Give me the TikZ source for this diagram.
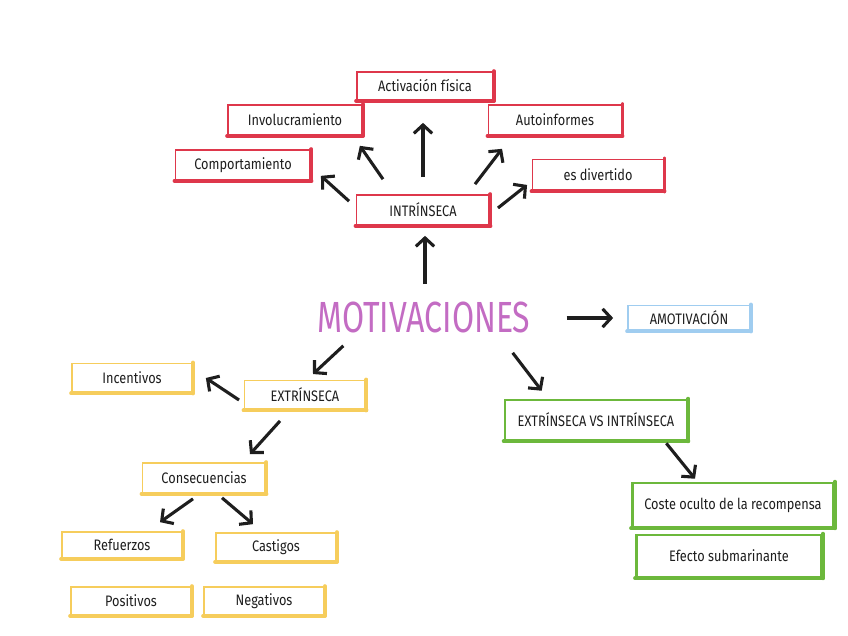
\documentclass[tikz,border=0pt]{standalone}
\usepackage{fontspec}
\setmainfont{Fira Sans}[FakeStretch=0.84]
\newfontfamily\titlefont{Fira Sans}[FakeStretch=0.735]
\usetikzlibrary{arrows.meta}
\definecolor{mred}{RGB}{222,55,75}
\definecolor{myel}{RGB}{246,205,92}
\definecolor{mgrn}{RGB}{108,184,60}
\definecolor{mblu}{RGB}{160,205,240}
\definecolor{mpur}{RGB}{195,108,195}
\definecolor{ink}{RGB}{30,30,30}

\begin{document}
\begin{tikzpicture}[x=0.025cm,y=-0.025cm,>={Straight Barb[length=6pt,width=13pt]},font=\fontsize{10.8}{12}\selectfont]
\tikzset{box/.style={draw=#1,line width=1.2pt,minimum height=0.72cm,inner sep=2pt,text=ink,
  append after command={(\tikzlastnode.north east) edge[draw=#1,line width=2.8pt,line cap=round] (\tikzlastnode.south east)
    (\tikzlastnode.south east) edge[draw=#1,line width=2.8pt,line cap=round] (\tikzlastnode.south west)}}}
\tikzstyle{arr}=[->,line width=2.2pt,ink]
\useasboundingbox (0,0) rectangle (848,636);

% central topic
\node[text=mpur,font=\titlefont\fontsize{31}{31}\selectfont,minimum width=5.3cm,minimum height=0.75cm,inner sep=0pt] (mot) at (424,317) {MOTIVACIONES};

% intrinseca
\node[box=mred,minimum width=3.33cm,minimum height=0.75cm] (intr) at (423,210) {INTRÍNSECA};
\node[box=mred,minimum width=3.4cm,minimum height=0.7cm] (act) at (425,86) {Activación física};
\node[box=mred,minimum width=3.35cm,minimum height=0.75cm] (inv) at (295,120) {Involucramiento};
\node[box=mred,minimum width=3.33cm,minimum height=0.75cm] (auto) at (555,120) {Autoinformes};
\node[box=mred,minimum width=3.38cm,minimum height=0.75cm] (comp) at (243,165) {Comportamiento};
\node[box=mred,minimum width=3.28cm,minimum height=0.78cm] (div) at (598,175) {es divertido};

% amotivacion
\node[box=mblu,minimum width=3.05cm,minimum height=0.63cm] (amot) at (689,318) {AMOTIVACIÓN};

% extrinseca
\node[box=myel,minimum width=3.03cm,minimum height=0.73cm] (extr) at (305,395) {EXTRÍNSECA};
\node[box=myel,minimum width=3cm,minimum height=0.73cm] (inc) at (132,378) {Incentivos};
\node[box=myel,minimum width=3.08cm,minimum height=0.75cm] (cons) at (204,478) {Consecuencias};
\node[box=myel,minimum width=3cm,minimum height=0.65cm] (ref) at (122,545) {Refuerzos};
\node[box=myel,minimum width=3cm,minimum height=0.7cm] (cast) at (276,547) {Castigos};
\node[box=myel,minimum width=3cm,minimum height=0.7cm] (pos) at (131,601) {Positivos};
\node[box=myel,minimum width=3cm,minimum height=0.7cm] (neg) at (264,601) {Negativos};

% extrinseca vs intrinseca
\node[box=mgrn,minimum width=4.55cm,minimum height=1cm,line width=1.8pt] (evi) at (596,420) {EXTRÍNSECA VS INTRÍNSECA};
\node[box=mgrn,minimum width=5.03cm,minimum height=1.1cm,line width=1.8pt] (coste) at (733,505) {Coste oculto de la recompensa};
\node[box=mgrn,minimum width=4.63cm,minimum height=1.05cm,line width=1.8pt] (efe) at (729,556) {Efecto submarinante};

\draw[arr] ([shift={(1,-17)}]mot.north) -- ([shift={(2,10)}]intr.south);
\draw[arr] ([shift={(-6.5,7)}]intr.north west) -- ([shift={(9.5,-5)}]comp.south east);
\draw[arr] ([shift={(-40,-15)}]intr.north) -- ([shift={(-3,10)}]inv.south east);
\draw[arr] ([shift={(0,-17)}]intr.north) -- ([shift={(-2,22)}]act.south);
\draw[arr] ([shift={(52,-10)}]intr.north) -- ([shift={(14.5,13)}]auto.south west);
\draw[arr] ([shift={(7.5,-2)}]intr.east) -- ([shift={(-4.5,-6.5)}]div.south west);
\draw[arr] ([shift={(36,1)}]mot.east) -- ([shift={(-14,0)}]amot.west);
\draw[arr] ([shift={(26,13)}]mot.south west) -- ([shift={(8,-5.5)}]extr.north);
\draw[arr] ([shift={(-18,20)}]mot.south east) -- ([shift={(38,-8)}]evi.north west);
\draw[arr] ([shift={(-4.5,5)}]extr.west) -- ([shift={(13,0)}]inc.east);
\draw[arr] ([shift={(-25,10.5)}]extr.south) -- ([shift={(46,-8)}]cons.north);
\draw[arr] ([shift={(-11,5)}]cons.south) -- ([shift={(38,-9)}]ref.north);
\draw[arr] ([shift={(18,4)}]cons.south) -- ([shift={(-23,-8)}]cast.north);
\draw[arr] ([shift={(-22,2)}]evi.south east) -- ([shift={(-38,-3)}]coste.north);
\end{tikzpicture}
\end{document}
